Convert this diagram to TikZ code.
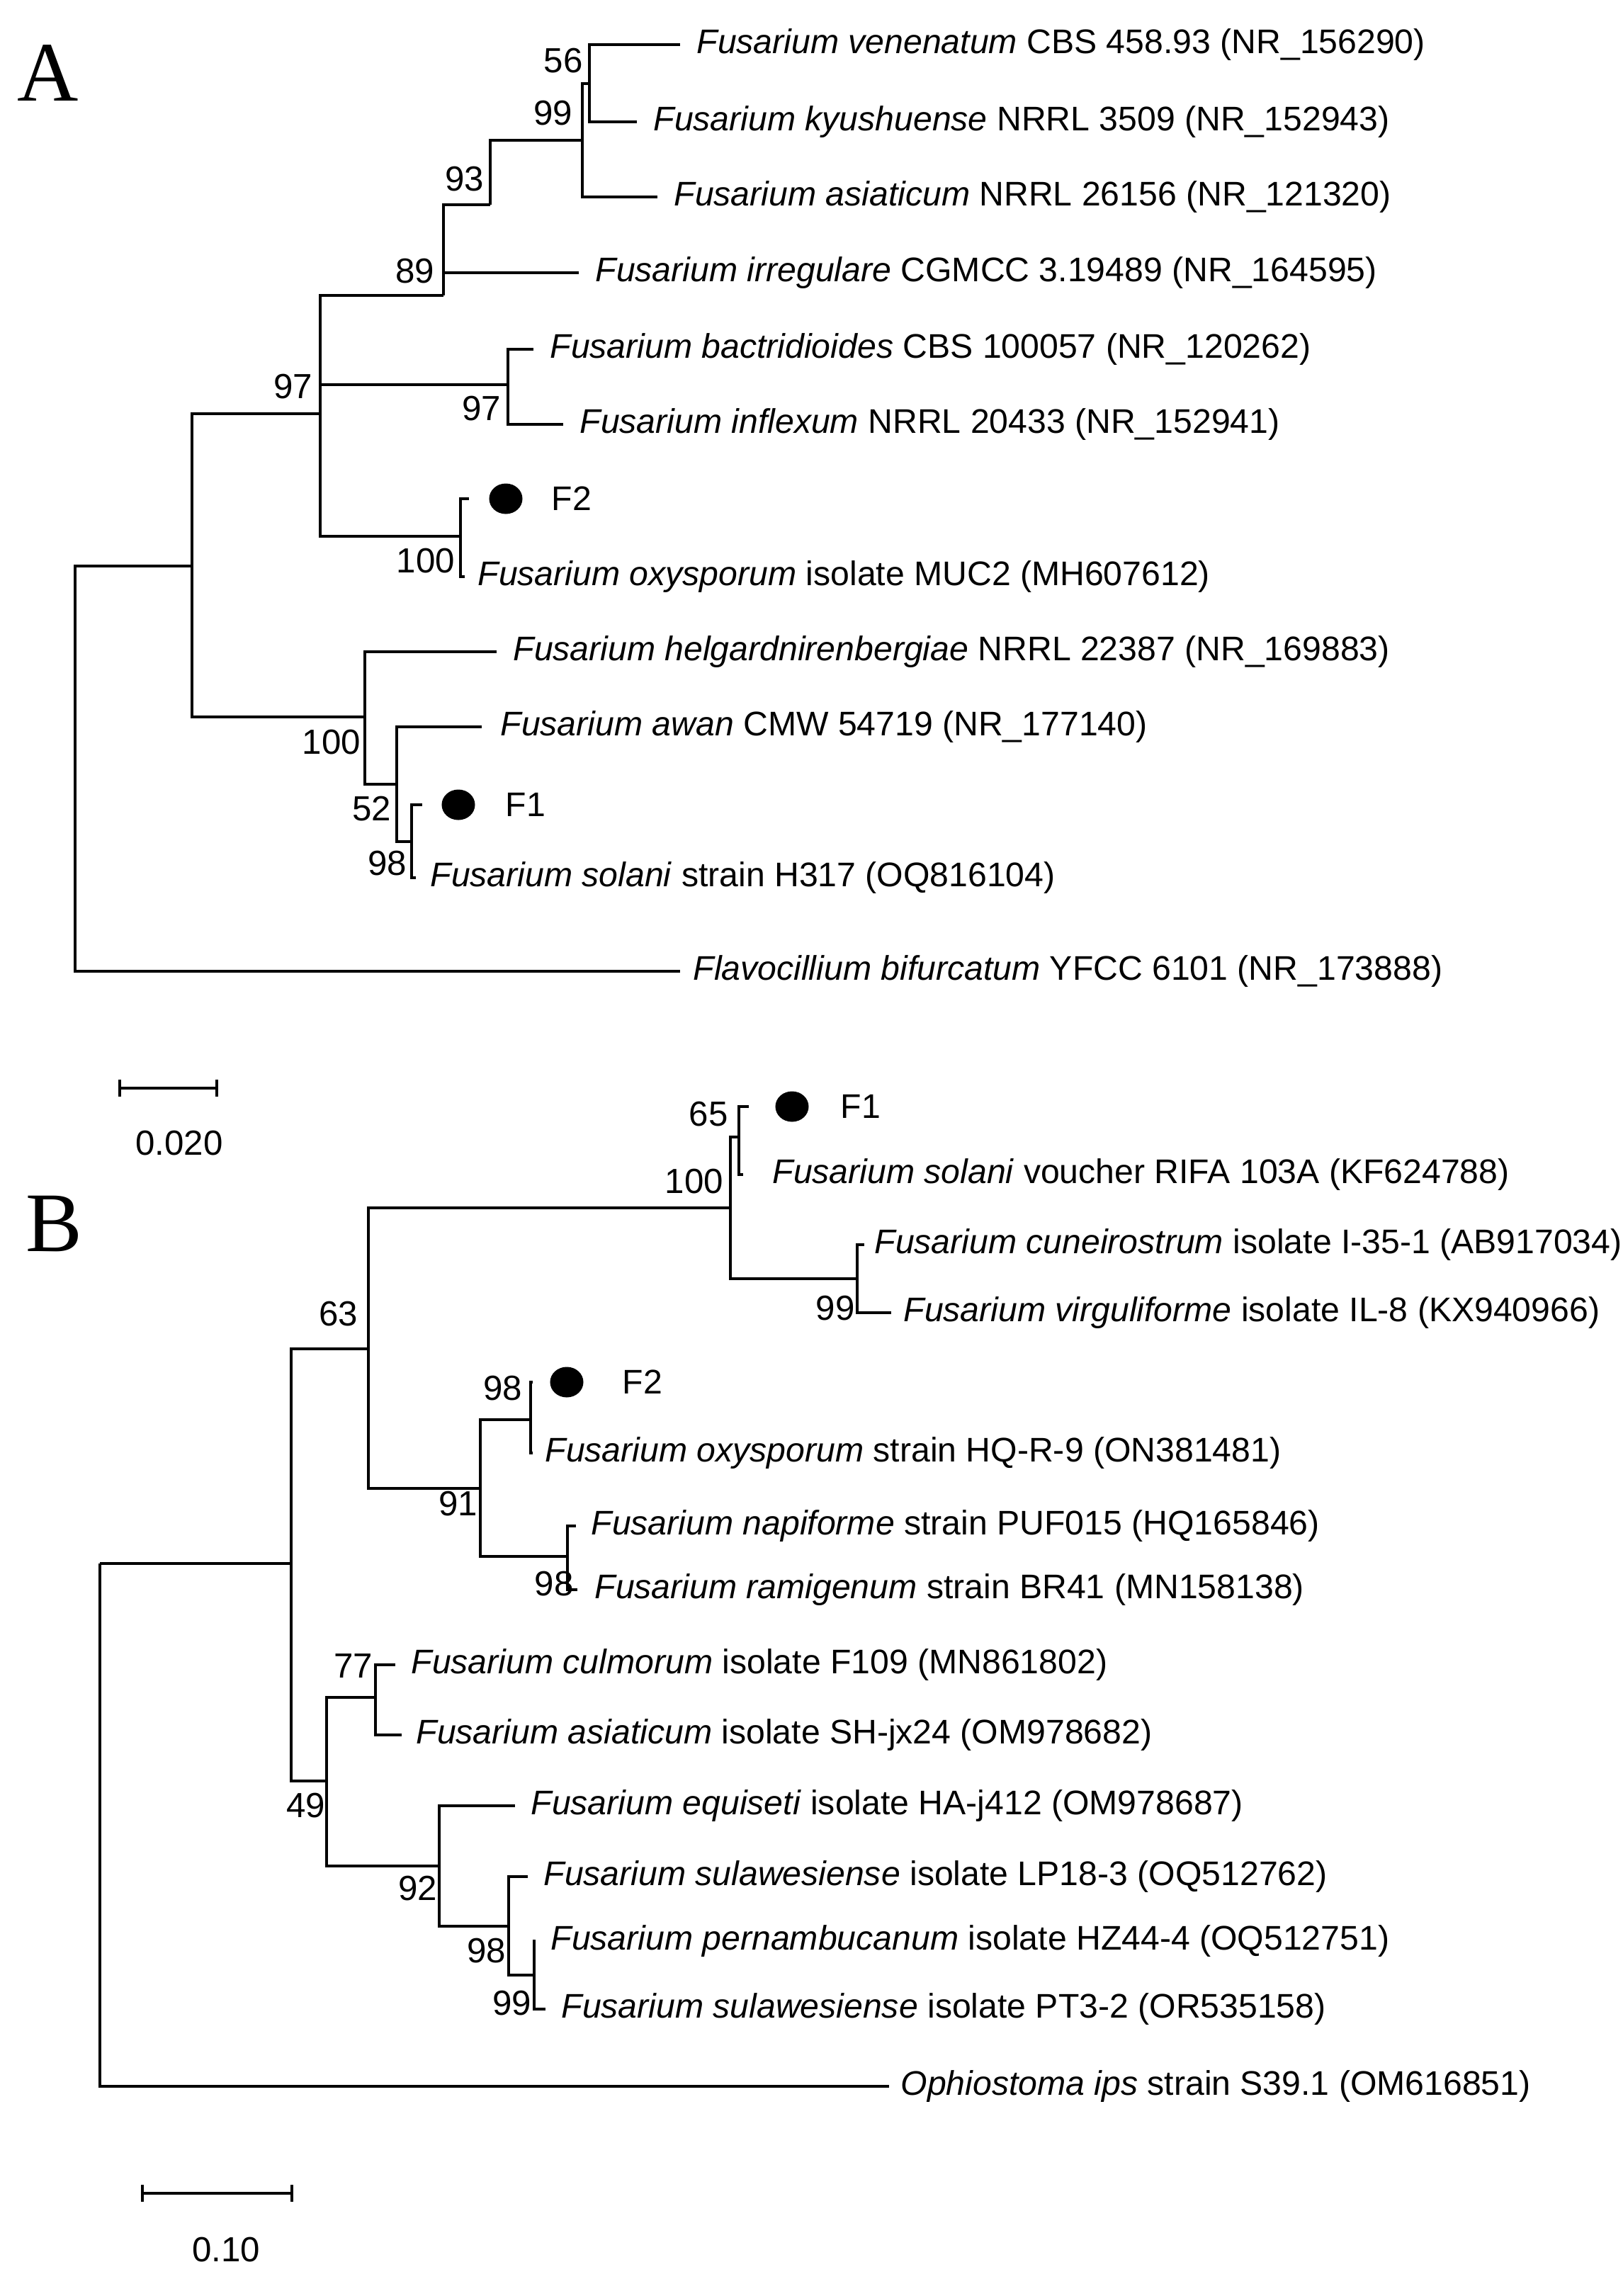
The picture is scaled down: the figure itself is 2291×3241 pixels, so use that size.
\documentclass[tikz,border=0pt]{standalone}
\usepackage{fontspec}
\setmainfont{Liberation Sans}
\newfontfamily\panelfont{Liberation Serif}
\usetikzlibrary{calc,shapes.geometric}

\begin{document}
\begin{tikzpicture}[x=0.01cm,y=-0.01cm,line width=0.9pt]
  \useasboundingbox (0,0) rectangle (2291,3241);
  \tikzset{
    taxon/.style={anchor=west,inner sep=0pt,font=\fontsize{13.7}{16}\selectfont},
    boot/.style={inner sep=0pt,font=\fontsize{14}{16}\selectfont},
    panel/.style={inner sep=0pt,font=\panelfont\fontsize{34}{38}\selectfont},
    isolate/.style={ellipse,fill=black,minimum width=0.47cm,minimum height=0.43cm,inner sep=0pt}
  }
  \newcommand{\Fus}[1]{\textit{Fusarium #1}}

  %%% Panel A
  \node [panel] (labA) at (68,103) {A};

  % internal nodes
  \coordinate (aroot) at (106,1085);
  \coordinate (a97) at (271,799);
  \coordinate (a89) at (452,584);
  \coordinate (a93) at (626,417);
  \coordinate (a99) at (692,289);
  \coordinate (a99b) at (822,198);
  \coordinate (a56) at (832,118);
  \coordinate (a97b) at (717,543);
  \coordinate (a100) at (650,757);
  \coordinate (a100b) at (515,1012);
  \coordinate (a52) at (560,1107);
  \coordinate (a98) at (581,1188);

  % leaves
  \node [taxon] (venen) at (982,63) {\Fus{venenatum} CBS 458.93 (NR\_156290)};
  \node [taxon] (kyush) at (921,172) {\Fus{kyushuense} NRRL 3509 (NR\_152943)};
  \node [taxon] (asiatA) at (950,278) {\Fus{asiaticum} NRRL 26156 (NR\_121320)};
  \node [taxon] (irreg) at (839,385) {\Fus{irregulare} CGMCC 3.19489 (NR\_164595)};
  \node [taxon] (bactr) at (775,493) {\Fus{bactridioides} CBS 100057 (NR\_120262)};
  \node [taxon] (inflex) at (817,599) {\Fus{inflexum} NRRL 20433 (NR\_152941)};
  \node [isolate] (dotF2a) at (714,704) {};
  \node [taxon] (F2a) at (777,704) {F2};
  \node [taxon] (oxyA) at (673,814) {\Fus{oxysporum} isolate MUC2 (MH607612)};
  \node [taxon] (helg) at (723,920) {\Fus{helgardnirenbergiae} NRRL 22387 (NR\_169883)};
  \node [taxon] (awan) at (705,1026) {\Fus{awan} CMW 54719 (NR\_177140)};
  \node [isolate] (dotF1a) at (647,1136) {};
  \node [taxon] (F1a) at (712,1136) {F1};
  \node [taxon] (solA) at (606,1239) {\Fus{solani} strain H317 (OQ816104)};
  \node [taxon] (flavo) at (977,1371) {\textit{Flavocillium bifurcatum} YFCC 6101 (NR\_173888)};

  % branches
  \draw (aroot) |- (a97);
  \draw (aroot) |- (flavo.west -| 960,0);
  \draw (a97) |- (a89);
  \draw (a97) |- (a100b);
  \draw (a89) |- (a93);
  \draw (a89) |- (a100);
  \draw (a93) |- (a99);
  \draw (a93) |- (irreg.west -| 817,0);
  \draw (a99) |- (a99b);
  \draw (a99b) |- (a56);
  \draw (a99b) |- (asiatA.west -| 928,0);
  \draw (a56) |- (venen.west -| 960,0);
  \draw (a56) |- (kyush.west -| 899,0);
  \draw (a89) |- (a97b);
  \draw (a97b) |- (bactr.west -| 753,0);
  \draw (a97b) |- (inflex.west -| 795,0);
  \draw (a100) |- (dotF2a -| 662,0);
  \draw (a100) |- (oxyA.west -| 656,0);
  \draw (a100b) |- (helg.west -| 701,0);
  \draw (a100b) |- (a52);
  \draw (a52) |- (awan.west -| 680,0);
  \draw (a52) |- (a98);
  \draw (a98) |- (dotF1a -| 596,0);
  \draw (a98) |- (solA.west -| 587,0);

  % support values
  \node [boot] (bA56) at (795,86) {56};
  \node [boot] (bA99) at (781,160) {99};
  \node [boot] (bA93) at (656,253) {93};
  \node [boot] (bA89) at (586,383) {89};
  \node [boot] (bA97) at (414,546) {97};
  \node [boot] (bA97b) at (680,577) {97};
  \node [boot] (bA100) at (601,792) {100};
  \node [boot] (bA100b) at (468,1048) {100};
  \node [boot] (bA52) at (525,1142) {52};
  \node [boot] (bA98) at (547,1219) {98};

  % scale bar A
  \coordinate (sbA1) at (169,1536);
  \coordinate (sbA2) at (306,1536);
  \draw (sbA1) -- (sbA2);
  \draw ($(sbA1)+(0,-12)$) -- ($(sbA1)+(0,12)$);
  \draw ($(sbA2)+(0,-12)$) -- ($(sbA2)+(0,12)$);
  \node [boot] (sbAtext) at (253,1614) {0.020};

  %%% Panel B
  \node [panel] (labB) at (76,1728) {B};

  % internal nodes
  \coordinate (broot) at (141,2207);
  \coordinate (b49) at (411,2207);
  \coordinate (b63) at (520,1904);
  \coordinate (b100) at (1031,1705);
  \coordinate (b65) at (1043,1605);
  \coordinate (b99) at (1210,1805);
  \coordinate (b91) at (678,2101);
  \coordinate (b98) at (749,2004);
  \coordinate (b98b) at (801,2197);
  \coordinate (b49n) at (461,2514);
  \coordinate (b77) at (530,2396);
  \coordinate (b92) at (620,2634);
  \coordinate (b98c) at (718,2719);
  \coordinate (b99b) at (754,2788);

  % leaves
  \node [isolate] (dotF1b) at (1118,1562) {};
  \node [taxon] (F1b) at (1185,1562) {F1};
  \node [taxon] (solB) at (1089,1658) {\Fus{solani} voucher RIFA 103A (KF624788)};
  \node [taxon] (cunei) at (1233,1757) {\Fus{cuneirostrum} isolate I-35-1 (AB917034)};
  \node [taxon] (virg) at (1274,1853) {\Fus{virguliforme} isolate IL-8 (KX940966)};
  \node [isolate] (dotF2b) at (800,1951) {};
  \node [taxon] (F2b) at (877,1951) {F2};
  \node [taxon] (oxyB) at (768,2051) {\Fus{oxysporum} strain HQ-R-9 (ON381481)};
  \node [taxon] (napi) at (833,2154) {\Fus{napiforme} strain PUF015 (HQ165846)};
  \node [taxon] (rami) at (838,2244) {\Fus{ramigenum} strain BR41 (MN158138)};
  \node [taxon] (culm) at (579,2350) {\Fus{culmorum} isolate F109 (MN861802)};
  \node [taxon] (asiatB) at (586,2449) {\Fus{asiaticum} isolate SH-jx24 (OM978682)};
  \node [taxon] (equis) at (748,2549) {\Fus{equiseti} isolate HA-j412 (OM978687)};
  \node [taxon] (sulaw1) at (766,2649) {\Fus{sulawesiense} isolate LP18-3 (OQ512762)};
  \node [taxon] (pernam) at (776,2740) {\Fus{pernambucanum} isolate HZ44-4 (OQ512751)};
  \node [taxon] (sulaw2) at (791,2836) {\Fus{sulawesiense} isolate PT3-2 (OR535158)};
  \node [taxon] (ophio) at (1270,2945) {\textit{Ophiostoma ips} strain S39.1 (OM616851)};

  % branches
  \draw (broot) |- (ophio.west -| 1255,0);
  \draw (broot) |- (b49);
  \draw (b49) |- (b63);
  \draw (b49) |- (b49n);
  \draw (b63) |- (b100);
  \draw (b63) |- (b91);
  \draw (b100) |- (b65);
  \draw (b100) |- (b99);
  \draw (b65) |- (dotF1b -| 1057,0);
  \draw (b65) |- (solB.west -| 1049,0);
  \draw (b99) |- (cunei.west -| 1220,0);
  \draw (b99) |- (virg.west -| 1258,0);
  \draw (b91) |- (b98);
  \draw (b91) |- (b98b);
  \draw (b98) |- (dotF2b -| 752,0);
  \draw (b98) |- (oxyB.west -| 752,0);
  \draw (b98b) |- (napi.west -| 813,0);
  \draw (b98b) |- (rami.west -| 815,0);
  \draw (b49n) |- (b77);
  \draw (b49n) |- (b92);
  \draw (b77) |- (culm.west -| 558,0);
  \draw (b77) |- (asiatB.west -| 567,0);
  \draw (b92) |- (equis.west -| 727,0);
  \draw (b92) |- (b98c);
  \draw (b98c) |- (sulaw1.west -| 745,0);
  \draw (b98c) |- (b99b);
  \draw (b99b) |- (pernam.west -| 756,0);
  \draw (b99b) |- (sulaw2.west -| 770,0);

  % support values
  \node [boot] (bB65) at (1000,1573) {65};
  \node [boot] (bB100) at (980,1668) {100};
  \node [boot] (bB99) at (1179,1847) {99};
  \node [boot] (bB63) at (478,1855) {63};
  \node [boot] (bB98) at (710,1960) {98};
  \node [boot] (bB91) at (647,2123) {91};
  \node [boot] (bB98b) at (782,2236) {98};
  \node [boot] (bB77) at (499,2352) {77};
  \node [boot] (bB49) at (432,2549) {49};
  \node [boot] (bB92) at (590,2666) {92};
  \node [boot] (bB98c) at (687,2754) {98};
  \node [boot] (bB99b) at (723,2828) {99};

  % scale bar B
  \coordinate (sbB1) at (201,3096);
  \coordinate (sbB2) at (412,3096);
  \draw (sbB1) -- (sbB2);
  \draw ($(sbB1)+(0,-12)$) -- ($(sbB1)+(0,12)$);
  \draw ($(sbB2)+(0,-12)$) -- ($(sbB2)+(0,12)$);
  \node [boot] (sbBtext) at (319,3176) {0.10};
\end{tikzpicture}
\end{document}
